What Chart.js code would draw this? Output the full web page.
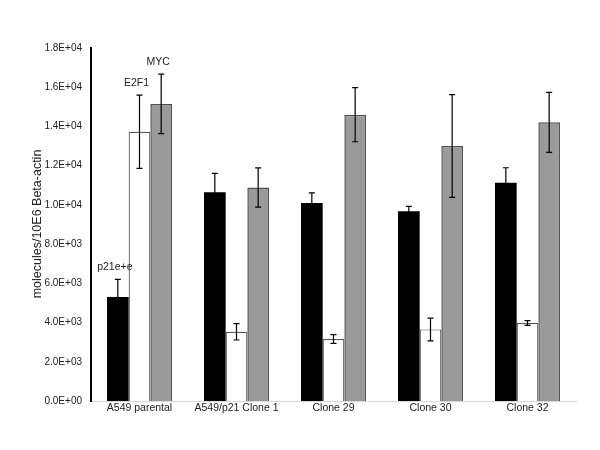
<!DOCTYPE html>
<html>
<head>
<meta charset="utf-8">
<script src="https://cdn.jsdelivr.net/npm/chart.js@4"></script>
<style>
  html, body { margin: 0; padding: 0; background: #fff; }
  #wrap { width: 600px; height: 450px; }
</style>
</head>
<body>
<div id="wrap"><canvas id="chart" width="600" height="450"></canvas></div>
<script>
const categories = ['A549 parental', 'A549/p21 Clone 1', 'Clone 29', 'Clone 30', 'Clone 32'];
const seriesNames = ['p21e+e', 'E2F1', 'MYC'];
const p21 = [5300, 10640, 10100, 9670, 11130];
const p21Err = [900, 970, 510, 255, 765];
const e2f1 = [13730, 3530, 3160, 3650, 3980];
const e2f1Err = [1870, 420, 220, 580, 120];
const myc = [15150, 10890, 14600, 13000, 14210];
const mycErr = [1520, 1000, 1380, 2620, 1530];
const yTitle = 'molecules/10E6 Beta-actin';

const FONT = 'Liberation Sans, Arial, sans-serif';
const errs = [p21Err, e2f1Err, mycErr];

const sci = v => {
  const [m, e] = Number(v).toExponential(1).split('e');
  const sign = e[0] === '-' ? '-' : '+';
  const d = e.replace(/[+-]/, '').padStart(2, '0');
  return `${m}E${sign}${d}`;
};

// error bars + series labels above first group + rotated y title
const extras = {
  id: 'extras',
  afterDatasetsDraw(c) {
    const ctx = c.ctx, y = c.scales.y;
    ctx.save();
    c.data.datasets.forEach((ds, di) => {
      const meta = c.getDatasetMeta(di);
      meta.data.forEach((bar, i) => {
        const v = ds.data[i], e = errs[di][i];
        const yt = y.getPixelForValue(v + e), yb = y.getPixelForValue(v - e);
        ctx.strokeStyle = '#000';
        ctx.lineWidth = 1.2;
        ctx.beginPath();
        ctx.moveTo(bar.x, yt); ctx.lineTo(bar.x, yb);
        ctx.moveTo(bar.x - 3, yt); ctx.lineTo(bar.x + 3, yt);
        ctx.moveTo(bar.x - 3, yb); ctx.lineTo(bar.x + 3, yb);
        ctx.stroke();
        if (i === 0) {
          ctx.fillStyle = '#222';
          ctx.font = '10.5px ' + FONT;
          ctx.textAlign = 'center';
          ctx.textBaseline = 'middle';
          ctx.fillText(ds.label, bar.x - 3, yt - 12);
        }
      });
    });
    ctx.translate(38, 224);
    ctx.rotate(-Math.PI / 2);
    ctx.fillStyle = '#222';
    ctx.font = '12.5px ' + FONT;
    ctx.textAlign = 'center';
    ctx.textBaseline = 'middle';
    ctx.fillText(yTitle, 0, 0);
    ctx.restore();
  }
};

new Chart(document.getElementById('chart'), {
  type: 'bar',
  data: {
    labels: categories,
    datasets: [
      { label: seriesNames[0], data: p21, backgroundColor: '#000', borderColor: '#000', borderWidth: 0 },
      { label: seriesNames[1], data: e2f1, backgroundColor: '#fff', borderColor: '#555', borderWidth: 1.2 },
      { label: seriesNames[2], data: myc, backgroundColor: '#9a9a9a', borderColor: '#505050', borderWidth: 1.5 },
    ]
  },
  options: {
    responsive: false,
    animation: false,
    devicePixelRatio: 1,
    layout: { padding: { top: 48, right: 24, left: 0, bottom: 0 } },
    plugins: { legend: { display: false }, tooltip: { enabled: false } },
    datasets: { bar: { categoryPercentage: 0.67, barPercentage: 1 } },
    scales: {
      x: {
        grid: { display: false, drawTicks: false },
        border: { color: '#d8d8d8', width: 1 },
        ticks: { color: '#222', font: { family: FONT, size: 10.5 }, padding: 1, maxRotation: 0, autoSkip: false },
        afterFit: s => { s.height = 49; }
      },
      y: {
        min: 0, max: 18000,
        grid: { display: false, drawOnChartArea: false, drawTicks: true, tickLength: 5, tickColor: '#000', tickWidth: 1.5 },
        border: { color: '#000', width: 2 },
        ticks: { stepSize: 2000, color: '#222', font: { family: FONT, size: 10 }, padding: 4, callback: v => sci(v) },
        afterFit: s => { s.width = 91; }
      }
    }
  },
  plugins: [extras]
});
</script>
</body>
</html>
